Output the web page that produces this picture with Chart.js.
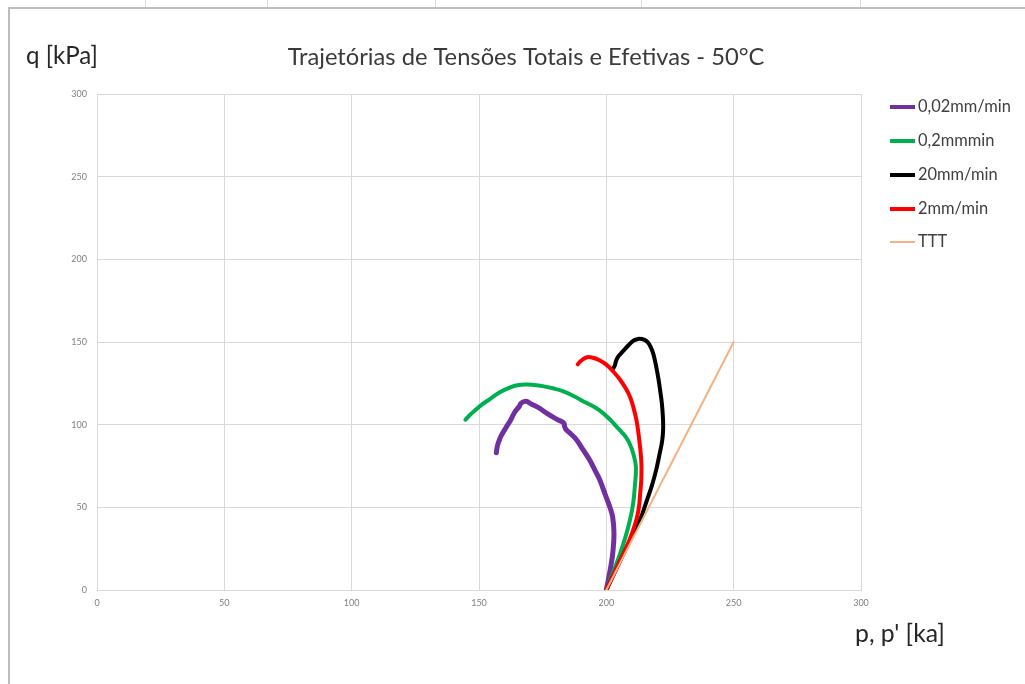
<!DOCTYPE html>
<html>
<head>
<meta charset="utf-8">
<script src="https://cdn.jsdelivr.net/npm/chart.js@4/dist/chart.umd.min.js"></script>
<style>
  html, body { margin: 0; padding: 0; background: #fff; }
  #wrap { position: relative; width: 1025px; height: 684px; overflow: hidden; }
  .frame { position: absolute; left: 8px; top: 7px; right: -10px; bottom: -10px;
           border-left: 2px solid #bdbdbd; border-top: 2px solid #bdbdbd; }
  .cell { position: absolute; top: 0; width: 1px; height: 7px; background: #dcdcdc; }
  canvas { position: absolute; left: 0; top: 0; }
</style>
</head>
<body>
<div id="wrap">
  <div class="frame"></div>
  <div class="cell" style="left:145px"></div>
  <div class="cell" style="left:267px"></div>
  <div class="cell" style="left:435px"></div>
  <div class="cell" style="left:641px"></div>
  <div class="cell" style="left:860px"></div>
  <canvas id="chart" width="1025" height="684"></canvas>
</div>
<script>
// series names (legend order)
const seriesNames = ['0,02mm/min', '0,2mmmin', '20mm/min', '2mm/min', 'TTT'];
const seriesColors = ['#7030a0', '#00b050', '#000000', '#ff0000', '#f4b183'];
const seriesWidths = [5, 4, 4, 4, 2];

// p [kPa] and q [kPa]
const p002 = [200, 201.5, 202.5, 203, 202.5, 201.3, 199.5, 197.4, 195.5, 193.4, 190.8, 188.2, 186, 184.2, 183.6, 183.3, 180.9, 177, 173.7, 170.5, 168.4, 166.5, 165.8, 164, 162.5, 160.5, 158.6, 157.6, 157.2, 156.8];
const q002 = [0, 12, 22, 34, 44, 50.5, 58, 66.7, 72.5, 78.8, 85, 91, 94.5, 97, 99, 101, 103, 106.5, 110, 112.5, 114.2, 113, 111, 107.5, 103, 98, 93, 89, 87, 83];

const p02 = [200, 202.5, 205.4, 207.5, 209.3, 210.5, 211.2, 211.6, 210.5, 209.3, 207.9, 206, 203.9, 201.5, 198.7, 195.5, 192.1, 187.5, 182.9, 179, 175, 171.5, 168.4, 165, 161.8, 158, 154, 151, 148.7, 146.5, 144.7];
const q02 = [0, 10, 22, 32, 42.5, 52, 62.7, 74.8, 82.9, 88, 92, 95.5, 99, 103, 107, 110.5, 113.2, 117, 120.3, 122, 123.3, 124, 124.3, 123.8, 122.3, 119.5, 115.2, 112, 109, 106, 103];

const p20 = [200, 204, 208, 211.2, 213.4, 216, 217.8, 219.6, 221, 221.9, 222.3, 222.2, 221.8, 221.2, 220.5, 219.6, 218.5, 217.4, 216.3, 214.8, 213, 211.8, 210.4, 208.8, 207.2, 205.7, 204.6, 203.8, 203.3, 202.6];
const q20 = [0, 13, 26, 36, 43, 54.6, 62.7, 72.8, 82.9, 90, 97, 105, 113, 120, 127.4, 135, 142.5, 147, 149.8, 151.4, 151.9, 151.5, 150.6, 148.2, 145.6, 143, 141, 138.5, 135.6, 133.8];

const p2 = [200, 204, 208, 210, 211.8, 212.8, 213.3, 213.7, 213.8, 213.6, 213.2, 212.6, 211.8, 210.7, 209.4, 207.6, 205.4, 202.8, 200, 197.3, 194.7, 192.5, 190.8, 189.6, 188.8];
const q2 = [0, 13, 26, 34, 42.5, 50, 58.6, 66, 74.8, 81, 87, 95, 103, 110, 116.5, 122, 127.2, 132, 136.3, 139, 140.5, 140.8, 139.5, 138, 136.5];

const pTTT = [200, 250];
const qTTT = [0, 150];

// axis ticks
const xTicks = [0, 50, 100, 150, 200, 250, 300];
const yTicks = [0, 50, 100, 150, 200, 250, 300];

const titleText = 'Trajetórias de Tensões Totais e Efetivas - 50°C';
const yTitle = 'q [kPa]';
const xTitle = "p, p' [ka]";

const pList = [p002, p02, p20, p2, pTTT];
const qList = [q002, q02, q20, q2, qTTT];

const datasets = seriesNames.map((name, i) => ({
  label: name,
  data: pList[i].map((p, k) => ({ x: p, y: qList[i][k] })),
  showLine: true,
  borderColor: seriesColors[i],
  backgroundColor: seriesColors[i],
  borderWidth: seriesWidths[i],
  pointRadius: 0,
  tension: i === 4 ? 0 : 0.4,
  borderJoinStyle: 'round',
  borderCapStyle: 'round',
  order: 5 - i   // Excel draws the last series on top
}));

const FONT = 'Lato, "Open Sans", sans-serif';

// pick a font size so a text spans the given width
function fitFont(ctx, text, width) {
  ctx.font = '20px ' + FONT;
  return 20 * width / ctx.measureText(text).width;
}

const textPlugin = {
  id: 'texts',
  afterDraw(chart) {
    const ctx = chart.ctx;
    ctx.save();
    ctx.textBaseline = 'middle';

    let s = fitFont(ctx, titleText, 477);
    ctx.font = s + 'px ' + FONT;
    ctx.fillStyle = '#3a3a3a';
    ctx.textAlign = 'center';
    ctx.fillText(titleText, 526, 57);

    s = fitFont(ctx, yTitle, 72);
    ctx.font = s + 'px ' + FONT;
    ctx.fillStyle = '#262626';
    ctx.textAlign = 'left';
    ctx.fillText(yTitle, 26, 56);

    s = fitFont(ctx, xTitle, 90);
    ctx.font = s + 'px ' + FONT;
    ctx.fillText(xTitle, 855, 634);

    // legend
    s = fitFont(ctx, seriesNames[0], 93);
    ctx.font = s + 'px ' + FONT;
    ctx.fillStyle = '#404040';
    const rows = [107, 141, 175, 209, 242];
    seriesNames.forEach((name, i) => {
      ctx.strokeStyle = seriesColors[i];
      ctx.lineWidth = i === 4 ? 2 : 4;
      ctx.beginPath();
      ctx.moveTo(890, rows[i]);
      ctx.lineTo(915, rows[i]);
      ctx.stroke();
      ctx.fillText(name, 918, rows[i]);
    });
    ctx.restore();
  }
};

new Chart(document.getElementById('chart'), {
  type: 'scatter',
  data: { datasets },
  options: {
    responsive: false,
    animation: false,
    devicePixelRatio: 1,
    layout: { padding: { left: 0, top: 94, right: 164, bottom: 0 } },
    plugins: { legend: { display: false }, title: { display: false }, tooltip: { enabled: false } },
    scales: {
      x: {
        type: 'linear', min: 0, max: 300,
        afterFit(scale) { scale.height = 94; },
        afterBuildTicks(scale) { scale.ticks = xTicks.map(v => ({ value: v })); },
        grid: { color: '#d9d9d9', drawTicks: false },
        border: { color: '#d9d9d9' },
        ticks: { padding: 8, color: '#808080', font: { size: 9, family: FONT }, maxRotation: 0 }
      },
      y: {
        type: 'linear', min: 0, max: 300,
        afterFit(scale) { scale.width = 97; },
        afterBuildTicks(scale) { scale.ticks = yTicks.map(v => ({ value: v })); },
        grid: { color: '#d9d9d9', drawTicks: false },
        border: { color: '#d9d9d9' },
        ticks: { padding: 10, color: '#808080', font: { size: 9, family: FONT } }
      }
    }
  },
  plugins: [textPlugin]
});
</script>
</body>
</html>
